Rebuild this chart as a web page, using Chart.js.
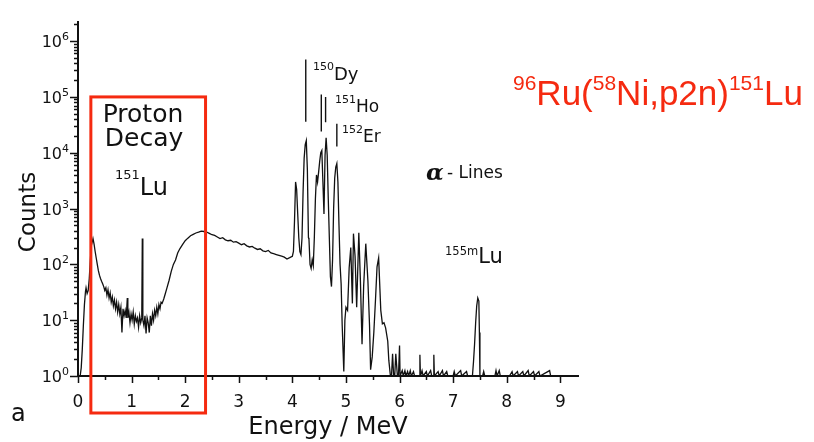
<!DOCTYPE html>
<html>
<head>
<meta charset="utf-8">
<script src="https://cdn.jsdelivr.net/npm/chart.js@4.4.1/dist/chart.umd.min.js"></script>
<style>
  html, body { margin: 0; padding: 0; background: #fff; }
</style>
</head>
<body>
<canvas id="spectrum" width="814" height="442"></canvas>
<script>
// energy spectrum, 96Ru(58Ni,p2n)151Lu
const energy = [
  0.04, 0.06, 0.08, 0.10, 0.12, 0.14, 0.15, 0.17, 0.19, 0.21, 0.23, 0.25, 0.28,
  0.30, 0.32, 0.34, 0.36, 0.38, 0.40, 0.42, 0.44, 0.46, 0.48, 0.50, 0.52, 0.54,
  0.56, 0.58, 0.60, 0.62, 0.64, 0.66, 0.68, 0.70, 0.72, 0.74, 0.76, 0.78, 0.80,
  0.82, 0.84, 0.86, 0.88, 0.90, 0.92, 0.93, 0.95, 0.97, 0.99, 1.01, 1.03, 1.05,
  1.07, 1.09, 1.11, 1.13, 1.15, 1.17, 1.19, 1.20, 1.21, 1.23, 1.25, 1.27, 1.29,
  1.31, 1.33, 1.35, 1.37, 1.39, 1.41, 1.43, 1.45, 1.47, 1.49, 1.51, 1.53, 1.55,
  1.57, 1.60, 1.63, 1.66, 1.70, 1.74, 1.78, 1.82, 1.86, 1.90, 1.95, 2.00, 2.05,
  2.10, 2.15, 2.20, 2.25, 2.30, 2.35, 2.40, 2.45, 2.50, 2.55, 2.60, 2.65, 2.70,
  2.75, 2.80, 2.85, 2.90, 2.95, 3.00, 3.05, 3.10, 3.15, 3.20, 3.25, 3.30, 3.35,
  3.40, 3.45, 3.50, 3.55, 3.60, 3.65, 3.70, 3.75, 3.80, 3.85, 3.90, 3.95, 4.00,
  4.02, 4.04, 4.06, 4.08, 4.10, 4.12, 4.14, 4.16, 4.18, 4.20, 4.22, 4.24, 4.26,
  4.28, 4.30, 4.31, 4.33, 4.35, 4.37, 4.39, 4.41, 4.43, 4.45, 4.47, 4.49, 4.51,
  4.53, 4.55, 4.57, 4.59, 4.61, 4.63, 4.65, 4.67, 4.69, 4.71, 4.73, 4.75, 4.77,
  4.79, 4.81, 4.83, 4.85, 4.87, 4.89, 4.91, 4.93, 4.96, 4.98, 5.00, 5.03, 5.06,
  5.09, 5.12, 5.14, 5.17, 5.20, 5.24, 5.27, 5.30, 5.33, 5.37, 5.41, 5.44, 5.46,
  5.49, 5.52, 5.55, 5.58, 5.61, 5.65, 5.68, 5.71, 5.74, 5.78, 5.80, 5.83, 5.85,
  5.87, 5.89, 5.91, 5.93, 5.96, 5.98, 6.00, 6.01, 6.05, 6.07, 6.10, 6.12, 6.15,
  6.17, 6.20, 6.22, 6.26, 6.28, 6.35, 6.37, 6.38, 6.39, 6.42, 6.44, 6.50, 6.52,
  6.58, 6.60, 6.63, 6.64, 6.65, 6.72, 6.74, 6.80, 6.82, 6.88, 6.90, 7.00, 7.02,
  7.04, 7.14, 7.16, 7.25, 7.27, 7.36, 7.38, 7.40, 7.42, 7.44, 7.46, 7.48, 7.49,
  7.50, 7.55, 7.57, 7.59, 7.78, 7.80, 7.82, 7.86, 7.88, 8.05, 8.10, 8.12, 8.20,
  8.22, 8.30, 8.32, 8.40, 8.42, 8.50, 8.52, 8.60, 8.62, 8.80, 8.82, 8.90
];
const counts = [
  1, 1.4, 3, 8, 19, 33, 38, 30, 34, 55, 120, 220, 290,
  230, 170, 130, 100, 77, 64, 56, 50, 45, 40, 34, 38, 28,
  35, 25, 31, 21, 26, 18, 23, 16, 21, 14, 19, 13, 17,
  6, 16, 12, 15, 11, 25, 11, 14, 9, 13, 10, 14, 8.5,
  12, 9.5, 11, 7.5, 12, 9, 11, 290, 10, 8, 12, 5.8, 11,
  9, 6, 12, 8, 13, 10, 15, 12, 17, 13, 19, 16, 21,
  20, 24, 30, 38, 52, 75, 100, 120, 160, 190, 225, 265, 295,
  325, 345, 365, 378, 395, 388, 380, 360, 340, 330, 310, 290, 300,
  275, 265, 270, 250, 255, 240, 225, 235, 215, 205, 210, 195, 185,
  190, 175, 170, 178, 160, 155, 150, 145, 140, 135, 125, 132, 140,
  170, 600, 3000, 2200, 800, 300, 170, 150, 300, 2000, 8000, 14000, 16500,
  5000, 300, 280, 100, 85, 120, 95, 300, 1500, 4000, 3000, 4500, 7000,
  10000, 11000, 3000, 800, 9000, 18500, 9000, 1500, 300, 60, 40, 120, 1000,
  3500, 5500, 6400, 3000, 500, 100, 45, 8, 1.2, 10, 17, 15, 87,
  200, 20, 355, 140, 17, 370, 50, 3.7, 40, 235, 50, 8, 1.3,
  2.2, 6, 22, 90, 130, 15, 8.6, 9, 7.3, 4.2, 1.9, 1, 1,
  2.5, 1, 1, 2.5, 1, 1, 3.5, 1, 1.25, 1, 1.25, 1, 1.2,
  1, 1.25, 1, 1.2, 1, 1, 1, 2.4, 1, 1.25, 1, 1.2, 1,
  1.25, 1, 1, 2.4, 1, 1.2, 1, 1.25, 1, 1.2, 1, 1, 1.2,
  1, 1.25, 1, 1.2, 1, 1, 1.8, 3.7, 9, 18, 25, 22, 6,
  1, 1, 1.2, 1, 1, 1.25, 1, 1.25, 1, 1, 1.2, 1, 1.2,
  1, 1.2, 1, 1.25, 1, 1.2, 1, 1.2, 1, 1.25, 1, 1
];

// alpha line markers: energy, upper and lower end of each bar
const alphaE = [4.25, 4.54, 4.62, 4.83];
const alphaTop = [4.7e5, 1.1e5, 1.0e5, 3.3e4];
const alphaBottom = [3.6e4, 2.4e4, 3.5e4, 1.3e4];

const xTicks = [0, 1, 2, 3, 4, 5, 6, 7, 8, 9];
const yTicks = [1, 10, 100, 1e3, 1e4, 1e5, 1e6];

const FAMILY = '"DejaVu Sans", sans-serif';
const RED = '#f52a10';
const INK = '#111';

// write a row of [text, size, raise] pieces left to right
function runs(ctx, x, y, parts, color, family) {
  ctx.fillStyle = color;
  ctx.textAlign = 'left';
  ctx.textBaseline = 'alphabetic';
  for (const [txt, size, dy, style] of parts) {
    ctx.font = (style || '') + ' ' + size + 'px ' + family;
    ctx.fillText(txt, x, y - (dy || 0));
    x += ctx.measureText(txt).width;
  }
}

const tickMarks = {
  id: 'tickMarks',
  afterDraw(chart) {
    const { ctx, scales: { x, y }, chartArea } = chart;
    ctx.save();
    ctx.strokeStyle = INK;
    ctx.lineWidth = 1.5;
    ctx.beginPath();
    for (let v = 0; v <= 9; v += 0.5) {
      const px = Math.round(x.getPixelForValue(v)) + 0.5;
      ctx.moveTo(px, chartArea.bottom);
      ctx.lineTo(px, chartArea.bottom + (v % 1 === 0 ? 7 : 4));
    }
    for (let d = 0; d <= 6; d++) {
      for (let m = 1; m <= 9; m++) {
        const v = m * Math.pow(10, d);
        if (v > y.max) break;
        const py = Math.round(y.getPixelForValue(v)) + 0.5;
        ctx.moveTo(chartArea.left, py);
        ctx.lineTo(chartArea.left - (m === 1 ? 8 : 4), py);
      }
    }
    ctx.stroke();

    // decade labels, 10 with a raised exponent
    ctx.textAlign = 'right';
    ctx.textBaseline = 'alphabetic';
    ctx.fillStyle = INK;
    yTicks.forEach(v => {
      const py = y.getPixelForValue(v);
      const e = String(Math.round(Math.log10(v)));
      ctx.font = '11px ' + FAMILY;
      const ew = ctx.measureText(e).width;
      ctx.fillText(e, 69, py - 1);
      ctx.font = '16px ' + FAMILY;
      ctx.fillText('10', 69 - ew, py + 6);
    });
    ctx.restore();
  }
};

const notes = {
  id: 'notes',
  afterDatasetsDraw(chart) {
    const { ctx, scales: { x, y }, chartArea } = chart;
    ctx.save();

    // box round the proton decay region
    const bx0 = x.getPixelForValue(0.24);
    const bx1 = x.getPixelForValue(2.38);
    const by0 = y.getPixelForValue(1e5);
    ctx.strokeStyle = RED;
    ctx.lineWidth = 3;
    ctx.strokeRect(bx0, by0, bx1 - bx0, chartArea.bottom + 37 - by0);

    ctx.textAlign = 'center';
    ctx.fillStyle = INK;
    ctx.font = '25px ' + FAMILY;
    ctx.fillText('Proton', 143, 122);
    ctx.fillText('Decay', 144, 146);
    runs(ctx, 115, 179, [['151', 13], ['Lu', 24, -16]], INK, FAMILY);

    runs(ctx, 313, 70, [['150', 11], ['Dy', 18, -10]], INK, FAMILY);
    runs(ctx, 335, 103, [['151', 11], ['Ho', 17, -9]], INK, FAMILY);
    runs(ctx, 342, 133, [['152', 11], ['Er', 17, -9]], INK, FAMILY);

    runs(ctx, 426, 180, [['\u03B1', 23, 0, 'italic bold']], INK, '"DejaVu Serif", serif');
    runs(ctx, 447, 178, [['- Lines', 17]], INK, FAMILY);

    runs(ctx, 445, 255, [['155m', 11.5], ['Lu', 21, -8]], INK, FAMILY);

    ctx.save();
    ctx.translate(27, 212);
    ctx.rotate(-Math.PI / 2);
    ctx.textAlign = 'center';
    ctx.fillStyle = INK;
    ctx.font = '23px ' + FAMILY;
    ctx.fillText('Counts', 0, 8);
    ctx.restore();

    runs(ctx, 11, 421, [['a', 24]], INK, FAMILY);

    // reaction
    const arial = '"Liberation Sans", Arial, sans-serif';
    runs(ctx, 513, 90, [
      ['96', 21], ['Ru(', 35, -15], ['58', 21], ['Ni,p2n)', 35, -15], ['151', 21], ['Lu', 35, -15]
    ], RED, arial);

    ctx.restore();
  }
};

const spectrumData = energy.map((e, i) => ({ x: e, y: counts[i] }));
const markerData = alphaE.flatMap((e, i) => [
  { x: e, y: alphaTop[i] }, { x: e, y: alphaBottom[i] }, { x: e, y: null }
]);

new Chart(document.getElementById('spectrum'), {
  type: 'line',
  data: {
    datasets: [
      {
        data: spectrumData,
        borderColor: INK,
        borderWidth: 1.3,
        pointRadius: 0,
        tension: 0
      },
      {
        data: markerData,
        borderColor: INK,
        borderWidth: 1.4,
        pointRadius: 0,
        spanGaps: false
      }
    ]
  },
  options: {
    responsive: false,
    animation: false,
    devicePixelRatio: 1,
    layout: { padding: { top: 22, right: 236, left: 0, bottom: 0 } },
    plugins: {
      legend: { display: false },
      tooltip: { enabled: false }
    },
    scales: {
      x: {
        type: 'linear',
        min: 0,
        max: 9.33,
        grid: { display: false },
        border: { display: true, color: INK, width: 2 },
        afterBuildTicks: s => { s.ticks = xTicks.map(v => ({ value: v })); },
        afterFit: s => { s.height = 66; },
        ticks: {
          color: INK,
          padding: 8,
          maxRotation: 0,
          font: { family: FAMILY, size: 17 }
        },
        title: {
          display: true,
          text: 'Energy / MeV',
          color: INK,
          padding: { top: 0, bottom: 0 },
          font: { family: FAMILY, size: 24 }
        }
      },
      y: {
        type: 'logarithmic',
        min: 1,
        max: 2.2e6,
        grid: { display: false },
        border: { display: true, color: INK, width: 2 },
        afterBuildTicks: s => { s.ticks = yTicks.map(v => ({ value: v })); },
        afterFit: s => { s.width = 78; },
        ticks: { display: false }
      }
    }
  },
  plugins: [tickMarks, notes]
});
</script>
</body>
</html>
